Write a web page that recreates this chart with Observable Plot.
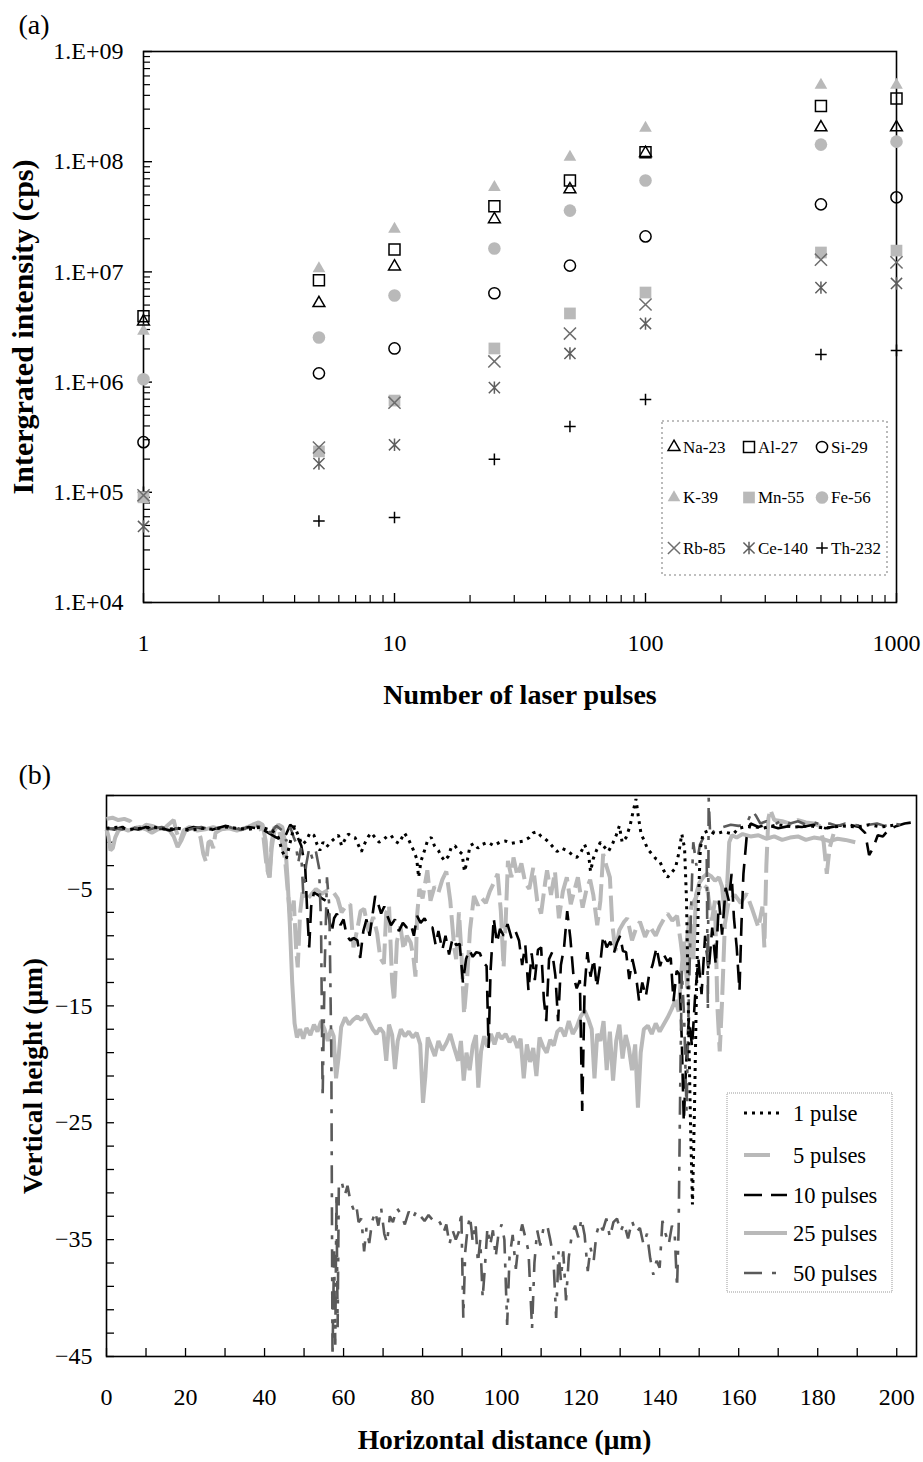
<!DOCTYPE html>
<html><head><meta charset="utf-8">
<script src="https://cdn.jsdelivr.net/npm/d3@7"></script>
<script src="https://cdn.jsdelivr.net/npm/@observablehq/plot@0.6"></script>
<style>
body{margin:0;background:#fff;}
#wrap{position:relative;width:923px;height:1462px;font-family:'Liberation Serif',serif;background:#fff;}
#a{position:absolute;left:0;top:0;}
#b{position:absolute;left:0;top:740px;}
</style></head><body><div id="wrap"><div id="a"></div><div id="b"></div></div>
<script>
// ---------- (a) data ----------
const pulses = [1, 5, 10, 25, 50, 100, 500, 1000];
const Na23  = [3.55e6, 5.2e6, 1.12e7, 3.0e7, 5.6e7, 1.2e8, 2.05e8, 2.05e8];
const Al27  = [3.95e6, 8.4e6, 1.6e7, 3.95e7, 6.75e7, 1.22e8, 3.2e8, 3.75e8];
const Si29  = [2.85e5, 1.2e6, 2.02e6, 6.4e6, 1.14e7, 2.1e7, 4.1e7, 4.75e7];
const K39   = [2.9e6, 1.07e7, 2.45e7, 5.85e7, 1.1e8, 2.02e8, 4.95e8, 4.95e8];
const Mn55  = [9.0e4, 2.35e5, 6.8e5, 2.02e6, 4.2e6, 6.5e6, 1.5e7, 1.56e7];
const Fe56  = [1.06e6, 2.54e6, 6.1e6, 1.63e7, 3.6e7, 6.75e7, 1.43e8, 1.52e8];
const Rb85  = [9.4e4, 2.55e5, 6.5e5, 1.54e6, 2.76e6, 5.06e6, 1.29e7, 1.22e7];
const Ce140 = [4.9e4, 1.82e5, 2.7e5, 8.9e5, 1.82e6, 3.4e6, 7.2e6, 7.85e6];
const Th232 = [1.0e5, 5.5e4, 5.9e4, 1.99e5, 3.95e5, 6.95e5, 1.78e6, 1.94e6];
const xTicksA = [1, 10, 100, 1000];
const yTicksA = [1e4, 1e5, 1e6, 1e7, 1e8, 1e9];
const yTickLabelsA = ["1.E+04", "1.E+05", "1.E+06", "1.E+07", "1.E+08", "1.E+09"];

// ---------- (b) data ----------
const distTicks = [0, 20, 40, 60, 80, 100, 120, 140, 160, 180, 200];
const heightTicks = [-45, -35, -25, -15, -5];
const pulse1 = [[0,0.2],[3,0.3],[6,0.1],[9,0.2],[12,0.3],[15,0.1],[18,0.2],[21,0.0],[24,0.2],[27,0.1],[30,0.3],[33,0.2],[36,0.1],[39,0.3],[42,0.0],[43.5,-0.6],[44.5,-1.8],[45.5,-2.4],[46.5,-1.0],[47.5,0.4],[48.5,-0.4],[49.5,-1.2],[50.5,-0.9],[51.5,-0.2],[52.5,-0.4],[53.3,-1.2],[54,-1.7],[54.8,-1.0],[55.7,-1.4],[57,-0.9],[58,-0.6],[58.7,-0.4],[59.5,-1.3],[60.3,-0.8],[61.2,-0.3],[62,-0.5],[62.9,-0.6],[63.7,-1.2],[64.5,-1.8],[65.5,-1.0],[66.3,-0.5],[67,-0.2],[68,-0.6],[69,-1.0],[70,-0.8],[71,-0.5],[72,-0.4],[73,-0.9],[74,-1.1],[75.4,-0.2],[76.5,-0.8],[77.7,-1.7],[78.5,-2.4],[79,-4.0],[79.6,-2.6],[80.4,-1.8],[81.3,-0.8],[82.2,-0.6],[83,-1.3],[84,-1.7],[84.7,-2.2],[85.6,-2.6],[86.5,-2.2],[87.3,-1.4],[88.2,-1.3],[89,-1.7],[90,-2.0],[90.6,-3.5],[91.3,-2.6],[92,-1.3],[93,-1.1],[94,-1.5],[95,-1.2],[96.5,-1.0],[98,-1.3],[99.5,-1.0],[101,-0.9],[102.5,-1.1],[104,-1.0],[105.5,-0.9],[107,-0.6],[108,-0.2],[109,-0.1],[110,-0.5],[111,-0.7],[112,-1.0],[113,-1.4],[114,-1.8],[115.2,-1.5],[116.5,-1.7],[118,-2.1],[119,-2.3],[120,-1.9],[121,-1.2],[122,-2.0],[122.5,-3.5],[123.2,-2.4],[124,-1.7],[125,-1.0],[126,-1.4],[127,-1.8],[128,-1.2],[129,-0.4],[129.8,0.4],[130.5,-1.0],[131.5,-0.6],[132.5,0.4],[133.2,1.5],[134,2.7],[134.6,1.2],[135.3,-0.3],[136,-0.8],[137,-1.6],[138,-2.0],[139,-2.4],[140,-2.6],[141,-3.4],[142,-4.0],[143,-3.6],[144,-3.2],[144.8,-2.0],[145.6,-0.3],[146.3,-1.5],[146.8,-6],[147.3,-16],[147.8,-25],[148.3,-32],[148.8,-24],[149.3,-14],[149.8,-6],[150.3,-1.5],[151,-0.2],[152.5,0.0],[154,-0.3],[156,-0.1],[158.6,-0.3],[160,0.2],[163,0.4],[166,0.2],[170,0.5],[174,0.3],[178,0.4],[182,0.2],[186,0.4],[190,0.3],[193,0.5],[196,0.3],[200,0.5]];
const pulse5 = [[0,1.0],[1.5,1.1],[3,0.9],[4.5,1.0],[6,0.8],[7,0.3],[8.5,0.1],[10,0.5],[11.5,0.4],[13,0.2],[15,0.3],[17,0.9],[17.8,-0.2],[18.6,-0.9],[19.5,0.0],[21,0.3],[23,0.1],[23.8,-0.6],[24.5,-2.0],[25.2,-2.7],[25.8,-1.0],[26.4,-0.9],[27,-1.5],[27.6,-0.2],[29,0.1],[31,0.3],[33,0.0],[35,0.2],[37,0.4],[38.5,0.5],[39.7,-0.5],[40.5,-3.0],[41.2,-4.0],[41.8,-1.0],[42.5,0.3],[43.5,0.2],[44.3,-0.8],[45.2,-2.5],[45.8,-4.9],[46.6,-7.7],[47.4,-6.0],[48.0,-10.2],[48.4,-11.7],[49,-7],[49.6,-5.3],[50.5,-6.0],[51.5,-5.6],[53,-5.0],[54.5,-5.4],[56,-5.1],[57.5,-5.3],[58.5,-5.8],[59.5,-7.0],[60.5,-6.5],[61.7,-6.3],[62.5,-10.0],[63.5,-8.4],[64.3,-6.9],[65.2,-6.7],[66.3,-8.6],[67.5,-7.4],[68.5,-8.8],[69.3,-10.9],[70.2,-11.4],[70.8,-7.0],[71.5,-6.4],[72.3,-13.0],[72.8,-14.6],[73.5,-9.5],[74.4,-8.2],[75.2,-10.2],[76,-9.0],[77,-9.6],[77.7,-10.9],[78.2,-12.5],[78.6,-7.3],[79.2,-5.0],[80,-5.8],[81.2,-3.4],[82,-6.0],[83,-4.8],[84,-5.3],[85,-4.2],[86,-3.5],[87,-6.0],[88,-10.0],[88.5,-11.0],[89.2,-7.0],[89.8,-10.3],[90.5,-15.7],[91.3,-12.5],[92,-8.5],[93,-5.6],[94,-6.4],[95,-5.8],[96,-6.2],[97,-5.2],[98,-4.5],[99,-3.7],[99.8,-6.9],[100.5,-11.7],[101,-8],[101.6,-2.6],[102.5,-4.0],[103,-2.3],[104,-3.9],[105,-2.8],[106,-4.5],[107,-5.0],[108,-3.2],[109,-6.0],[110,-7.1],[111,-4.5],[111.5,-3.4],[112.5,-5.5],[113.5,-3.5],[114.5,-7.5],[115.5,-5.2],[116.5,-4.0],[117.5,-6.3],[118.5,-5.0],[119.3,-4.0],[120.5,-6.6],[121.5,-5.0],[122.4,-4.2],[123.2,-5.5],[124.2,-8.1],[125,-6.0],[125.7,-2.0],[126.5,-3.0],[127.4,-4.0],[128,-8.0],[128.8,-10.3],[129.8,-8.5],[131,-7.8],[131.8,-7.5],[133,-9.4],[134,-8.4],[135,-7.8],[136.3,-9.1],[137.5,-8.2],[139,-9.0],[140,-8.2],[141,-7.6],[142,-7.1],[143.2,-7.7],[144.4,-7.3],[145.3,-9.5],[146.2,-12.0],[147,-9.0],[148,-6.5],[149.5,-5.5],[150.5,-4.5],[152,-4.9],[153.2,-7.7],[154,-6.0],[154.6,-15.0],[155.2,-18.9],[155.8,-14.5],[156.5,-8.0],[157.5,-6.0],[159,-5.5],[160.5,-6.2],[162,-5.4],[163.5,-6.8],[165,-8.3],[166,-6.5],[166.5,-10.0],[167,-3.0],[167.5,1.0],[168,1.8],[169,0.9],[171,0.8],[173,0.6],[175,0.9],[177,0.7],[179,0.6],[180.5,0.4],[181.5,-1.0],[182.3,-3.7],[183,-1.5],[184,-0.3]];
const pulse10 = [[0,0.2],[2,0.1],[4,0.3],[6,0.2],[8,0.1],[10,0.3],[12,0.1],[14,0.2],[16,0.0],[18,0.2],[20,0.1],[22,0.3],[24,0.2],[26,0.0],[28,0.2],[30,0.4],[32,0.3],[34,0.1],[36,0.3],[38,0.2],[40,0.0],[41.5,-0.3],[43,-0.6],[44.5,-0.8],[45.5,-0.3],[46.5,0.5],[47.5,0.2],[48.4,-0.6],[49.3,-1.3],[50.3,-3.2],[50.8,-7.0],[51.3,-10.0],[51.8,-6.5],[52.5,-5.3],[53.5,-5.5],[54.5,-5.8],[55.5,-6.0],[56.3,-7.5],[57,-8.7],[57.6,-7.5],[58.3,-7.1],[59.2,-8.1],[60,-7.6],[60.8,-9.0],[61.7,-9.4],[62.6,-9.2],[63.5,-9.4],[64.2,-10.9],[65,-8.6],[65.8,-7.6],[66.6,-9.0],[67.5,-6.8],[68,-5.6],[68.7,-6.2],[69.5,-7.1],[70.3,-6.5],[71.2,-7.4],[72,-8.1],[73,-7.6],[74,-8.6],[75,-7.9],[76,-8.3],[77,-8.0],[77.8,-9.0],[78.6,-7.3],[79.5,-7.9],[80.5,-7.5],[81.5,-8.2],[82.5,-8.3],[83.3,-9.8],[84,-8.6],[85,-10.2],[85.8,-9.0],[86.7,-10.6],[87.6,-9.2],[88.5,-9.8],[89.4,-9.7],[90.2,-13.0],[91,-11.0],[91.8,-10.2],[92.7,-10.8],[93.6,-10.4],[94.5,-10.5],[95.4,-11.3],[96.2,-11.6],[96.7,-18.6],[97.2,-12.0],[98,-7.5],[98.8,-9.6],[99.6,-8.4],[100.5,-9.0],[101.5,-8.0],[102.5,-9.2],[103.5,-8.6],[104.4,-9.4],[105.2,-11.5],[106,-9.8],[106.8,-13.7],[107.6,-10.5],[108.4,-12.8],[109.2,-10.2],[110,-10.0],[110.7,-14.5],[111.3,-16.3],[112,-11.0],[112.8,-10.4],[113.6,-12.4],[114.3,-16.3],[115,-11.5],[115.8,-10.0],[116.6,-6.9],[117.4,-9.2],[118.2,-12.5],[119,-13.5],[119.8,-12.8],[120.4,-24.0],[121,-13.5],[121.7,-10.4],[122.5,-12.5],[123.3,-11.0],[124.1,-13.4],[124.9,-11.6],[125.7,-9.0],[126.6,-10.0],[127.5,-9.5],[128.4,-10.5],[129.2,-9.6],[130,-9.0],[130.7,-10.3],[131.5,-10.4],[132.3,-12.7],[133.1,-11.0],[134,-12.4],[134.8,-14.6],[135.6,-13.0],[136.5,-14.2],[137.3,-12.4],[138.2,-11.5],[139.2,-10.0],[140.1,-11.6],[141,-10.6],[142,-11.2],[142.8,-10.9],[143.5,-14.6],[144.3,-12.0],[145,-12.3],[145.6,-18.0],[146.1,-24.9],[146.7,-20.0],[147.4,-16.0],[148.2,-18.5],[149,-14.0],[149.8,-11.0],[150.6,-14.0],[151.5,-9.0],[152.4,-12.0],[153.3,-8.3],[154.2,-11.5],[155,-6.0],[155.8,-8.9],[156.7,-4.9],[157.5,-6.0],[158.2,-3.7],[158.8,-7.5],[159.5,-10.0],[160.2,-13.7],[160.7,-8.0],[161.2,-3.7],[162,-0.6],[163,0.6],[165,0.3],[167,0.5],[170,0.2],[173,0.4],[176,0.3],[179,0.5],[182,0.2],[185,0.4],[188,0.5],[190.5,0.3],[192,-0.2],[193,-2.1],[194,-1.5],[195.2,-0.4],[196.5,-0.5],[198,0.1],[200,0.4],[202,0.6],[204,0.7]];
const pulse25 = [[0,0.1],[0.5,-0.5],[1,-1.7],[1.6,-1.5],[2.2,-0.6],[3,0.0],[4,0.2],[5.5,0.0],[7,0.2],[8.5,0.3],[10,0.1],[11.5,-0.2],[13,0.1],[14.5,0.2],[16,0.0],[17,-0.5],[18,-1.4],[19,-0.8],[20,0.0],[21.5,0.2],[23,0.0],[25,0.1],[27,0.3],[29,0.1],[31,0.2],[33,0.0],[35,0.2],[37,0.5],[38.5,0.7],[39.5,0.5],[40.3,-0.9],[40.8,-3.5],[41.3,-4.0],[41.8,-1.5],[42.5,0.0],[43.5,0.5],[44.5,0.3],[45.2,-1.0],[45.8,-4.0],[46.4,-8.0],[47,-13.0],[47.6,-16.5],[48.2,-17.7],[49,-17.0],[49.8,-17.8],[50.6,-16.9],[51.6,-17.5],[52.5,-16.6],[53.4,-17.2],[54.3,-16.3],[55.2,-17.0],[56,-18.0],[56.8,-17.0],[57.5,-17.6],[58.1,-21.2],[58.7,-19.5],[59.4,-16.8],[60.4,-16.0],[61.4,-16.6],[62.4,-16.2],[63.5,-15.9],[64.5,-16.2],[65.5,-15.7],[66.5,-16.4],[67.4,-17.0],[68.3,-17.4],[69.2,-16.9],[70.1,-17.3],[70.8,-19.7],[71.5,-16.6],[72.3,-17.5],[73,-20.4],[73.7,-18.0],[74.5,-17.0],[75.5,-17.6],[76.5,-17.2],[77.5,-17.7],[78.5,-17.3],[79.4,-18.3],[80.1,-23.3],[80.7,-21.0],[81.3,-17.7],[82.2,-18.5],[83.1,-19.3],[84,-18.0],[85,-18.8],[86,-18.2],[87,-17.4],[88,-18.6],[89,-19.7],[89.7,-18.0],[90.4,-21.4],[91.1,-19.0],[91.9,-20.5],[92.7,-18.4],[93.5,-17.5],[94.1,-22.0],[94.8,-18.9],[95.6,-17.6],[96.4,-18.5],[97.3,-17.4],[98.2,-18.3],[99.1,-17.3],[100,-17.8],[101,-17.4],[102,-18.1],[103,-17.6],[104,-18.6],[104.8,-17.8],[105.6,-21.2],[106.4,-18.3],[107.2,-19.8],[108,-18.6],[108.8,-21.0],[109.6,-17.7],[110.5,-18.5],[111.4,-19.0],[112.3,-17.9],[113.2,-18.4],[114.1,-17.2],[115,-16.9],[116,-17.6],[117,-16.3],[118,-17.4],[119,-16.8],[120,-15.9],[121,-15.4],[122,-16.2],[122.8,-17.0],[123.5,-21.2],[124.2,-17.4],[125,-18.0],[125.8,-16.3],[126.6,-20.5],[127.4,-17.2],[128.2,-21.4],[129,-18.0],[129.8,-16.6],[130.6,-19.5],[131.4,-17.5],[132.2,-18.6],[133,-20.5],[133.8,-18.3],[134.5,-23.7],[135.2,-19.0],[136,-17.0],[137,-16.7],[138,-17.4],[139,-16.5],[140,-17.2],[141,-16.6],[142,-16.0],[143,-15.3],[144,-14.5],[144.8,-15.5],[145.5,-12.0],[146.2,-9.5],[147,-13.5],[147.8,-8.0],[148.5,-11.0],[149.2,-5.5],[150,-4.5],[151,-4.0],[152,-3.7],[153,-3.9],[154,-4.3],[155,-4.0],[155.8,-4.8],[156.5,-7.3],[157.1,-4.5],[157.6,-1.0],[158.3,-0.4],[159.5,-0.6],[161,-0.3],[163,-0.5],[165,-0.4],[167,-0.7],[169,-0.5],[171,-0.8],[173,-0.6],[175,-0.5],[177,-0.8],[179,-0.6],[181,-0.7],[183,-0.9],[185,-0.7],[187,-0.8],[189.5,-1.0]];
const pulse50 = [[0,0.1],[2,0.2],[4,0.1],[6,0.3],[8,0.2],[10,0.0],[12,0.2],[14,0.3],[16,0.1],[18,0.2],[20,0.0],[22,0.2],[24,0.3],[26,0.1],[28,0.2],[30,0.4],[32,0.2],[34,0.1],[36,0.3],[38,0.4],[40,0.2],[41.5,-0.2],[43,0.4],[44.5,0.0],[45.5,-0.9],[46.5,0.3],[47.3,-0.5],[47.9,-1.0],[48.5,-2.8],[49.2,-1.5],[49.8,-5.4],[50.5,-3.0],[51.3,-1.5],[52.2,-2.5],[53,-1.8],[53.8,-3.2],[54.3,-8.0],[54.7,-22.9],[55.2,-12.0],[55.8,-4.0],[56.4,-6.5],[56.9,-19.0],[57.2,-45.0],[57.6,-36.0],[57.9,-44.0],[58.2,-31.0],[58.5,-42.5],[58.8,-30.3],[59.5,-30.0],[60.3,-31.2],[61,-30.4],[61.8,-31.8],[62.5,-32.4],[63.2,-32.0],[63.8,-33.5],[64.5,-33.2],[65.2,-36.0],[65.8,-34.0],[66.5,-35.3],[67.2,-33.5],[68,-32.6],[68.8,-33.8],[69.5,-32.3],[70.3,-34.5],[71,-35.3],[71.7,-33.0],[72.5,-33.5],[73.5,-32.3],[74.5,-32.8],[75.5,-33.7],[76.5,-32.6],[77.5,-33.2],[78.5,-32.5],[79.5,-33.0],[80.5,-33.4],[81.5,-32.9],[82.5,-33.3],[83.5,-33.1],[84.5,-33.6],[85.3,-34.4],[86,-33.7],[86.8,-35.4],[87.6,-34.2],[88.4,-35.0],[89.2,-34.3],[89.8,-32.6],[90.3,-41.7],[90.8,-36.0],[91.4,-34.0],[92,-33.0],[92.7,-35.2],[93.4,-33.6],[94,-37.0],[94.6,-35.0],[95.2,-40.0],[95.8,-37.2],[96.4,-34.0],[97.1,-35.5],[97.8,-34.2],[98.5,-36.5],[99.2,-34.5],[100,-33.7],[100.7,-35.0],[101.4,-42.3],[102,-36.5],[102.8,-34.6],[103.6,-37.5],[104.4,-35.0],[105.2,-33.7],[106,-34.8],[106.8,-36.0],[107.7,-42.6],[108.3,-37.0],[109,-34.2],[109.8,-35.5],[110.6,-34.0],[111.5,-33.7],[112.3,-35.0],[113.1,-36.5],[113.8,-41.7],[114.4,-36.0],[115,-38.5],[115.6,-36.0],[116.3,-40.2],[117,-36.5],[117.8,-34.5],[118.6,-33.8],[119.4,-34.8],[120.2,-33.2],[121,-34.6],[121.8,-37.7],[122.5,-35.7],[123.3,-36.8],[124,-34.5],[124.8,-33.6],[125.6,-34.2],[126.5,-33.2],[127.4,-34.8],[128.3,-33.5],[129.2,-33.2],[130.1,-34.3],[131,-33.6],[132,-34.9],[133,-33.4],[134,-34.4],[135,-34.0],[135.9,-35.4],[136.8,-34.5],[137.6,-36.6],[138.4,-38.0],[139.2,-36.8],[140,-37.4],[140.7,-33.4],[141.5,-34.5],[142.3,-35.4],[143.1,-33.8],[143.8,-34.5],[144.4,-39.1],[144.8,-34.0],[145.2,-22.0],[145.6,-12.0],[146.2,-16.0],[146.8,-24.0],[147.4,-14.0],[148,-6.0],[148.5,-1.0],[149.3,-3.0],[150.2,-1.2],[151.2,-0.5],[151.9,-2.0],[152.2,-15.4],[152.4,2.8],[152.8,-0.5],[154,0.1],[156,0.3],[158,0.5],[160,0.4],[162,0.6],[163.5,1.7],[164.5,1.2],[165.5,0.6],[167,0.8],[169,0.5],[171,0.9],[173,0.6],[175,0.8],[177,0.5],[179,0.7],[181,0.5],[183,0.6],[185,0.4],[187,0.6],[189,0.5],[191,0.4],[193,0.5],[195,0.6],[197,0.4],[199,0.6],[201,0.5],[203,0.6]];

// ---------- styles ----------
const GRAY = "#b9b9b9";
// × with a vertical bar (Ce-140 marker)
const asterX = {
  draw(ctx, size) {
    const r = Math.sqrt(size) * 0.5;
    ctx.moveTo(-r, -r); ctx.lineTo(r, r);
    ctx.moveTo(-r, r); ctx.lineTo(r, -r);
    ctx.moveTo(0, -r * 1.1); ctx.lineTo(0, r * 1.1);
  }
};
const seriesA = [
  {name: "Th-232", values: Th232, symbol: d3.symbolPlus, fill: "none", stroke: "#000", r: 3.8},
  {name: "Mn-55", values: Mn55, symbol: d3.symbolSquare, fill: GRAY, stroke: "none", r: 6.6},
  {name: "Rb-85", values: Rb85, symbol: d3.symbolTimes, fill: "none", stroke: "#6e6e6e", r: 5.6},
  {name: "Ce-140", values: Ce140, symbol: asterX, fill: "none", stroke: "#5e5e5e", r: 6.3},
  {name: "Fe-56", values: Fe56, symbol: d3.symbolCircle, fill: GRAY, stroke: "none", r: 6.3},
  {name: "Si-29", values: Si29, symbol: d3.symbolCircle, fill: "none", stroke: "#000", r: 5.6},
  {name: "K-39", values: K39, symbol: d3.symbolTriangle, fill: GRAY, stroke: "none", r: 4.7},
  {name: "Al-27", values: Al27, symbol: d3.symbolSquare, fill: "none", stroke: "#000", r: 6.2},
  {name: "Na-23", values: Na23, symbol: d3.symbolTriangle, fill: "none", stroke: "#000", r: 4.4}
];
const legendOrderA = ["Na-23", "Al-27", "Si-29", "K-39", "Mn-55", "Fe-56", "Rb-85", "Ce-140", "Th-232"];

const seriesB = [
  {name: "1 pulse", data: pulse1, stroke: "#000", width: 3, dash: "3,5", legendLen: 40},
  {name: "5 pulses", data: pulse5, stroke: GRAY, width: 4, dash: "26,7", legendLen: 29},
  {name: "10 pulses", data: pulse10, stroke: "#000", width: 2.6, dash: "18,9", legendLen: 43},
  {name: "25 pulses", data: pulse25, stroke: GRAY, width: 4, dash: null, legendLen: 43},
  {name: "50 pulses", data: pulse50, stroke: "#5a5a5a", width: 2.6, dash: "18,10,4,10", legendLen: 36}
];
const drawOrderB = ["25 pulses", "5 pulses", "10 pulses", "50 pulses", "1 pulse"];

const FONT = "'Liberation Serif', 'Times New Roman', serif";

// ---------- chart (a) ----------
const FW_A = 753, FH_A = 551;
const minorX = [];
[1, 10, 100].forEach(b => { for (let k = 2; k <= 9; k++) minorX.push(b * k); });
const minorY = [];
[1e4, 1e5, 1e6, 1e7, 1e8].forEach(b => { for (let k = 2; k <= 9; k++) minorY.push(b * k); });

const marksA = [
  Plot.frame({stroke: "#000", strokeWidth: 1.6}),
  Plot.tickX(minorX, {x: d => d, insetTop: FH_A - 7, stroke: "#000", strokeWidth: 1.2}),
  Plot.tickX(xTicksA, {x: d => d, insetTop: FH_A - 9, stroke: "#000", strokeWidth: 1.4}),
  Plot.tickY(minorY, {y: d => d, insetRight: FW_A - 7, stroke: "#000", strokeWidth: 1.2}),
  Plot.tickY(yTicksA, {y: d => d, insetRight: FW_A - 9, stroke: "#000", strokeWidth: 1.4}),
  Plot.text(xTicksA, {x: d => d, frameAnchor: "bottom", dy: 41, text: d => String(d), fontSize: 24, lineAnchor: "middle", fill: "#000"}),
  Plot.text(yTicksA, {y: d => d, frameAnchor: "left", dx: -20, textAnchor: "end", text: (d, i) => yTickLabelsA[i], fontSize: 24, lineAnchor: "middle", fill: "#000"}),
  Plot.text(["Number of laser pulses"], {frameAnchor: "bottom", dy: 93, textAnchor: "middle", fontSize: 28, fontWeight: "bold", lineAnchor: "middle", fill: "#000"}),
  Plot.text(["Intergrated intensity (cps)"], {frameAnchor: "left", dx: -120, rotate: -90, textAnchor: "middle", fontSize: 30, fontWeight: "bold", lineAnchor: "middle", fill: "#000"}),
  Plot.text(["(a)"], {frameAnchor: "top-left", dx: -125, dy: -26, textAnchor: "start", fontSize: 28, lineAnchor: "middle", fill: "#000"})
];
seriesA.forEach(s => {
  const pts = pulses.map((p, i) => ({x: p, y: s.values[i]})).filter(d => d.y != null);
  marksA.push(Plot.dot(pts, {x: "x", y: "y", symbol: s.symbol, r: s.r, fill: s.fill, stroke: s.stroke, strokeWidth: 1.5}));
});

const chartA = Plot.plot({
  width: 923, height: 720,
  marginLeft: 143, marginRight: 27, marginTop: 51, marginBottom: 118,
  style: {fontFamily: FONT, background: "white", overflow: "visible"},
  x: {type: "log", domain: [1, 1000], axis: null},
  y: {type: "log", domain: [1e4, 1e9], axis: null},
  marks: marksA
});
document.getElementById("a").appendChild(chartA);

// ---------- chart (b) ----------
const FW_B = 810, FH_B = 561;
const xTickB = []; for (let v = 0; v <= 200; v += 10) xTickB.push(v);
const yTickB = []; for (let v = -45; v <= 3; v += 2) yTickB.push(v);
const marksB = [
  Plot.frame({stroke: "#000", strokeWidth: 1.6}),
  Plot.tickX(xTickB, {x: d => d, insetTop: FH_B - 8, stroke: "#000", strokeWidth: 1.3}),
  Plot.tickY(yTickB, {y: d => d, insetRight: FW_B - 8, stroke: "#000", strokeWidth: 1.3}),
  Plot.text(distTicks, {x: d => d, frameAnchor: "bottom", dy: 41, text: d => String(d), fontSize: 24, lineAnchor: "middle", fill: "#000"}),
  Plot.text(heightTicks, {y: d => d, frameAnchor: "left", dx: -14, textAnchor: "end", text: d => "\u2212" + Math.abs(d), fontSize: 24, lineAnchor: "middle", fill: "#000"}),
  Plot.text(["Horizontal distance (\u03bcm)"], {frameAnchor: "bottom", dy: 84, dx: -7, textAnchor: "middle", fontSize: 27.5, fontWeight: "bold", lineAnchor: "middle", fill: "#000"}),
  Plot.text(["Vertical height (\u03bcm)"], {frameAnchor: "left", dx: -73, rotate: -90, textAnchor: "middle", fontSize: 27.5, fontWeight: "bold", lineAnchor: "middle", fill: "#000"}),
  Plot.text(["(b)"], {frameAnchor: "top-left", dx: -88, dy: -20, textAnchor: "start", fontSize: 28, lineAnchor: "middle", fill: "#000"})
];
drawOrderB.forEach(n => {
  const s = seriesB.find(t => t.name === n);
  const opts = {x: d => d[0], y: d => d[1], stroke: s.stroke, strokeWidth: s.width, strokeLinejoin: "miter", strokeLinecap: "butt"};
  if (s.dash) opts.strokeDasharray = s.dash;
  marksB.push(Plot.line(s.data, opts));
});
const chartB = Plot.plot({
  width: 923, height: 722,
  marginLeft: 106, marginRight: 7, marginTop: 55, marginBottom: 106,
  style: {fontFamily: FONT, background: "white", overflow: "visible"},
  x: {domain: [0, 205], axis: null},
  y: {domain: [-45, 3], axis: null},
  marks: marksB
});
document.getElementById("b").appendChild(chartB);

// ---------- legends ----------
const ov = d3.select("#wrap").append("svg")
  .attr("width", 923).attr("height", 1462)
  .style("position", "absolute").style("left", "0px").style("top", "0px")
  .style("pointer-events", "none")
  .style("font-family", FONT);

ov.append("rect").attr("x", 662).attr("y", 421).attr("width", 225).attr("height", 154)
  .attr("fill", "white").attr("stroke", "#aaa").attr("stroke-width", 1.6).attr("stroke-dasharray", "2,3");
const colX = [674, 749, 822];
legendOrderA.forEach((n, i) => {
  const s = seriesA.find(t => t.name === n);
  const cx = colX[i % 3], cy = 447 + Math.floor(i / 3) * 50.5;
  ov.append("path").attr("transform", `translate(${cx},${cy})`)
    .attr("d", d3.symbol(s.symbol, Math.PI * s.r * s.r)())
    .attr("fill", s.fill).attr("stroke", s.stroke).attr("stroke-width", 1.5);
  ov.append("text").attr("x", cx + 9).attr("y", cy).attr("dy", "0.35em")
    .attr("font-size", 17).text(n);
});

ov.append("rect").attr("x", 727).attr("y", 1093).attr("width", 165).attr("height", 199)
  .attr("fill", "white").attr("stroke", "#999").attr("stroke-width", 1).attr("stroke-dasharray", "1,1");
const rowY = [1113, 1155, 1195, 1233, 1273];
seriesB.forEach((s, i) => {
  const ln = ov.append("line").attr("x1", 744).attr("x2", 744 + s.legendLen)
    .attr("y1", rowY[i]).attr("y2", rowY[i])
    .attr("stroke", s.stroke).attr("stroke-width", s.width);
  if (s.dash) ln.attr("stroke-dasharray", s.dash);
  ov.append("text").attr("x", 793).attr("y", rowY[i]).attr("dy", "0.35em")
    .attr("font-size", 22.5).text(s.name);
});
</script></body></html>
